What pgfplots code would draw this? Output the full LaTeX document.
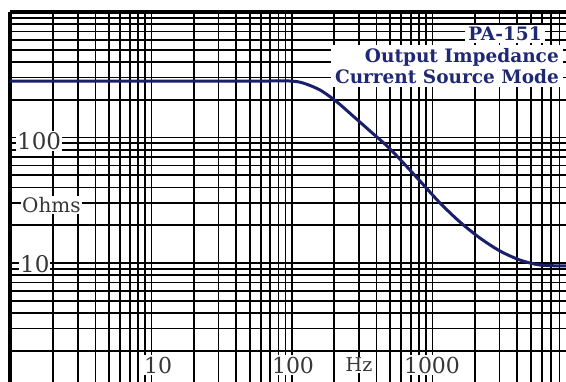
\documentclass[border=0pt]{standalone}
\usepackage{pgfplots}
\pgfplotsset{compat=1.18}
\usepackage{fontspec}
\setmainfont{DejaVu Serif}
\definecolor{navy}{RGB}{30,40,115}
\definecolor{curvec}{RGB}{25,32,105}
\definecolor{lab}{RGB}{55,55,55}
\begin{document}
\begin{tikzpicture}
\begin{axis}[
  scale only axis, width=556bp, height=370bp,
  xmode=log, ymode=log,
  xmin=0.984, xmax=8915, ymin=1.127, ymax=1000,
  axis x line*=top, axis y line*=left,
  axis line style={-, black, line width=4bp},
  xtick={1,10,100,1000}, ytick={10,100,1000},
  minor xtick={2,3,4,5,6,7,8,9,20,30,40,50,60,70,80,90,200,300,400,500,600,700,800,900,2000,3000,4000,5000,6000,7000,8000},
  minor ytick={2,3,4,5,6,7,8,9,20,30,40,50,60,70,80,90,200,300,400,500,600,700,800,900},
  xticklabels={}, yticklabels={},
  major tick length=0pt, minor tick length=0pt,
  grid=both,
  major grid style={black, line width=1.7bp},
  minor grid style={black, line width=1.7bp},
]
\addplot[curvec, line width=3bp, smooth, tension=0.5] coordinates {
(0.984,281.9) (10,281.9) (60,281.9) (96.8,281.9) (119.8,271.8) (158.2,239.1)
(209.1,191.8) (271.8,148.4) (359.1,112.7) (474.6,85.6) (587.3,67.0)
(814.7,45.0) (1130.7,30.1) (1569.6,21.2) (2178.6,15.8) (3023,12.46)
(4196,10.56) (5823,9.64) (8915,9.47)
};
% axis labels inside the plot
\node[fill=white, text=lab, anchor=west, inner sep=1bp, font=\fontsize{23bp}{26bp}\selectfont] at (rel axis cs:0.0108,0.6514) {100};
\node[fill=white, text=lab, anchor=west, inner sep=1bp, font=\fontsize{23bp}{26bp}\selectfont] at (rel axis cs:0.0162,0.3189) {10};
\node[fill=white, text=lab, anchor=west, inner sep=1bp, font=\fontsize{20bp}{24bp}\selectfont] at (rel axis cs:0.0198,0.4784) {Ohms};
\node[fill=white, text=lab, inner sep=1.5bp, font=\fontsize{22bp}{26bp}\selectfont] at (rel axis cs:0.2662,0.0459) {10};
\node[fill=white, text=lab, inner sep=1.5bp, font=\fontsize{22bp}{26bp}\selectfont] at (rel axis cs:0.509,0.0459) {100};
\node[fill=white, text=lab, inner sep=1.5bp, font=\fontsize{19bp}{24bp}\selectfont] at (rel axis cs:0.6277,0.0459) {Hz};
\node[fill=white, text=lab, inner sep=1.5bp, font=\fontsize{22bp}{26bp}\selectfont] at (rel axis cs:0.759,0.0459) {1000};
% title
\node[fill=white, text=navy, inner xsep=3bp, inner ysep=2bp, font=\bfseries\fontsize{18.5bp}{21bp}\selectfont] at (rel axis cs:0.8903,0.9405) {PA-151};
\node[fill=white, text=navy, anchor=north east, align=right, inner xsep=4bp, inner ysep=3bp, font=\bfseries\fontsize{18.5bp}{21bp}\selectfont] at (rel axis cs:0.9946,0.9108) {Output Impedance\\Current Source Mode};
\end{axis}
\pgfresetboundingbox
\path[use as bounding box] ([xshift=-10bp]current axis.south west) rectangle ([yshift=12bp]current axis.north east);
\end{tikzpicture}
\end{document}
